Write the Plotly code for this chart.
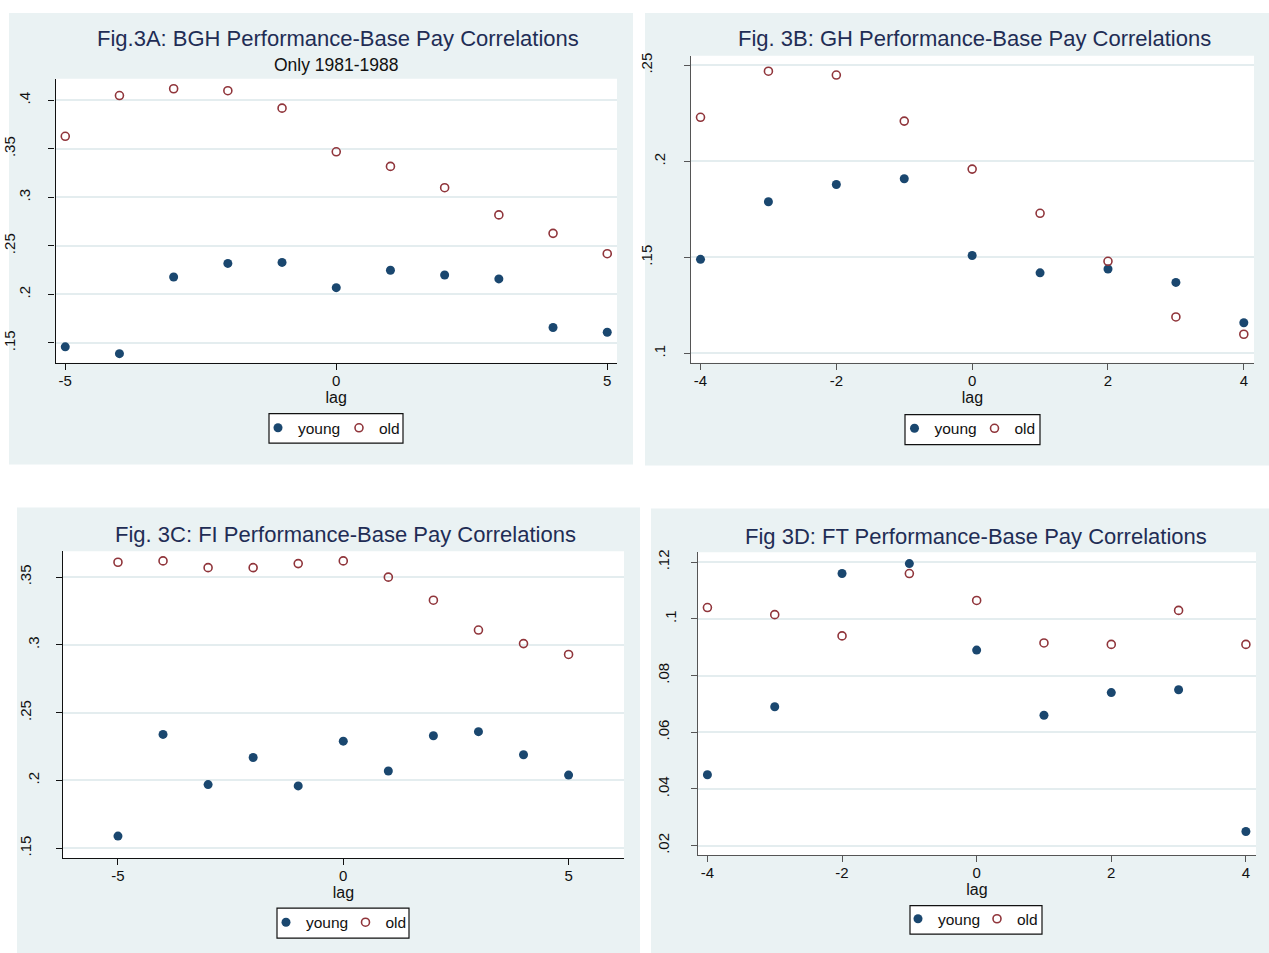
import plotly.graph_objects as go

# ---------------- data ----------------
lag_a = [-5, -4, -3, -2, -1, 0, 1, 2, 3, 4, 5]
young_a = [0.146, 0.139, 0.218, 0.232, 0.233, 0.207, 0.225, 0.220, 0.216, 0.166, 0.161]
old_a = [0.363, 0.405, 0.412, 0.410, 0.392, 0.347, 0.332, 0.310, 0.282, 0.263, 0.242]

lag_b = [-4, -3, -2, -1, 0, 1, 2, 3, 4]
young_b = [0.149, 0.179, 0.188, 0.191, 0.151, 0.142, 0.144, 0.137, 0.116]
old_b = [0.223, 0.247, 0.245, 0.221, 0.196, 0.173, 0.148, 0.119, 0.110]

lag_c = [-5, -4, -3, -2, -1, 0, 1, 2, 3, 4, 5]
young_c = [0.159, 0.234, 0.197, 0.217, 0.196, 0.229, 0.207, 0.233, 0.236, 0.219, 0.204]
old_c = [0.361, 0.362, 0.357, 0.357, 0.360, 0.362, 0.350, 0.333, 0.311, 0.301, 0.293]

lag_d = [-4, -3, -2, -1, 0, 1, 2, 3, 4]
young_d = [0.045, 0.069, 0.116, 0.1195, 0.089, 0.066, 0.074, 0.075, 0.025]
old_d = [0.104, 0.1015, 0.094, 0.116, 0.1065, 0.0915, 0.091, 0.103, 0.091]

titles = [
    "Fig.3A: BGH Performance-Base Pay Correlations",
    "Fig. 3B: GH Performance-Base Pay Correlations",
    "Fig. 3C: FI Performance-Base Pay Correlations",
    "Fig 3D: FT Performance-Base Pay Correlations",
]
subtitle_a = "Only 1981-1988"

xtick_a = [-5, 0, 5]
xtick_b = [-4, -2, 0, 2, 4]
xtick_c = [-5, 0, 5]
xtick_d = [-4, -2, 0, 2, 4]

ytick_a = [0.15, 0.2, 0.25, 0.3, 0.35, 0.4]
ylab_a = [".15", ".2", ".25", ".3", ".35", ".4"]
ytick_b = [0.1, 0.15, 0.2, 0.25]
ylab_b = [".1", ".15", ".2", ".25"]
ytick_c = [0.15, 0.2, 0.25, 0.3, 0.35]
ylab_c = [".15", ".2", ".25", ".3", ".35"]
ytick_d = [0.02, 0.04, 0.06, 0.08, 0.1, 0.12]
ylab_d = [".02", ".04", ".06", ".08", ".1", ".12"]

# ---------------- styling ----------------
W, H = 1269, 953
FONT = "Liberation Sans, Arial, Helvetica, sans-serif"
BG = "#EAF2F3"
NAVY = "#1A476F"
MAROON = "#90353B"
TITLE_C = "#1F2D55"
GRID = "#E4EDEF"
TICK_FS = 15
Y_FS = 15


def px(x):
    return x / W


def py(y):
    return 1 - y / H


panels = [
    dict(lag=lag_a, young=young_a, old=old_a, xt=xtick_a, yt=ytick_a, yl=ylab_a,
         xr=[-5.18, 5.18], yr=[0.1295, 0.4223],
         plot=(55.5, 617, 76, 361), bg=(9, 633, 10, 463),
         title_xy=(337.5, 35.5), frame=(269, 403, 412, 441.5), mk=(279, 362, 427.5),
         line="#111111", so_main=12, so_over=37),
    dict(lag=lag_b, young=young_b, old=old_b, xt=xtick_b, yt=ytick_b, yl=ylab_b,
         xr=[-4.14, 4.15], yr=[0.0951, 0.255],
         plot=(691, 1254, 53, 361), bg=(645, 1269, 10, 464),
         title_xy=(974, 35.5), frame=(905, 1040, 413, 443), mk=(915.5, 997.5, 428),
         line="#555555", so_main=13, so_over=35),
    dict(lag=lag_c, young=young_c, old=old_c, xt=xtick_c, yt=ytick_c, yl=ylab_c,
         xr=[-6.22, 6.23], yr=[0.1426, 0.3691],
         plot=(63, 624, 550, 858), bg=(17, 640, 506, 953),
         title_xy=(345, 533), frame=(277, 409, 908, 938), mk=(287, 368.5, 923.5),
         line="#111111", so_main=11, so_over=28),
    dict(lag=lag_d, young=young_d, old=old_d, xt=xtick_d, yt=ytick_d, yl=ylab_d,
         xr=[-4.14, 4.15], yr=[0.0166, 0.1235],
         plot=(698, 1256, 551, 855), bg=(651, 1269, 507, 953),
         title_xy=(976, 535), frame=(910, 1042, 905.5, 934), mk=(919, 1000, 920),
         line="#555555", so_main=9, so_over=25),
]

fig = go.Figure()
layout = dict(
    width=W, height=H, margin=dict(l=0, r=0, t=0, b=0),
    paper_bgcolor="white", plot_bgcolor="white",
    font=dict(family=FONT, color="#111111"),
    shapes=[], annotations=[],
)

SYM_OFF = 20   # plotly legend symbol centre offset from legend left edge
ROW_OFF = 18   # plotly legend row centre offset from legend top edge

for i, p in enumerate(panels):
    n = i + 1
    xa = "xaxis" if n == 1 else f"xaxis{n}"
    ya = "yaxis" if n == 1 else f"yaxis{n}"
    xref = "x" if n == 1 else f"x{n}"
    yref = "y" if n == 1 else f"y{n}"
    ov = f"yaxis{n + 4}"
    ovref = f"y{n + 4}"
    leg_y = "legend" if n == 1 else f"legend{2 * n - 1}"
    leg_o = f"legend{2 * n}"
    x0, x1, y0, y1 = p["plot"]

    # panel background and white plot region
    bx0, bx1, by0, by1 = p["bg"]
    layout["shapes"].append(dict(type="rect", xref="paper", yref="paper",
                                 x0=px(bx0), x1=px(bx1), y0=py(by1), y1=py(by0),
                                 fillcolor=BG, line=dict(width=0), layer="below"))
    layout["shapes"].append(dict(type="rect", xref="paper", yref="paper",
                                 x0=px(x0), x1=px(x1), y0=py(y1), y1=py(y0),
                                 fillcolor="white", line=dict(width=0), layer="below"))
    # legend frame
    fx0, fx1, fy0, fy1 = p["frame"]
    layout["shapes"].append(dict(type="rect", xref="paper", yref="paper",
                                 x0=px(fx0), x1=px(fx1), y0=py(fy1), y1=py(fy0),
                                 fillcolor="white", line=dict(width=1.2, color="#111111"),
                                 layer="below"))

    fig.add_trace(go.Scatter(x=p["lag"], y=p["young"], mode="markers", name="young",
                             marker=dict(symbol="circle", size=9, color=NAVY),
                             xaxis=xref, yaxis=yref, legend=leg_y, showlegend=True))
    fig.add_trace(go.Scatter(x=p["lag"], y=p["old"], mode="markers", name="old",
                             marker=dict(symbol="circle-open", size=8, color=MAROON,
                                         line=dict(width=1.6, color=MAROON)),
                             xaxis=xref, yaxis=yref, legend=leg_o, showlegend=True))
    # invisible carrier so the overlaid label axis is drawn
    fig.add_trace(go.Scatter(x=p["lag"], y=p["young"], mode="markers",
                             marker=dict(size=1, opacity=0), hoverinfo="skip",
                             xaxis=xref, yaxis=ovref, showlegend=False))

    layout[xa] = dict(domain=[px(x0), px(x1)], anchor=yref, range=p["xr"],
                      tickvals=p["xt"], ticktext=[str(v) for v in p["xt"]],
                      ticks="outside", ticklen=6, tickcolor=p["line"], tickwidth=1,
                      showline=True, linecolor=p["line"], linewidth=1.2,
                      showgrid=False, zeroline=False, ticklabelstandoff=-2,
                      tickfont=dict(size=TICK_FS, color="#111111"),
                      title=dict(text="lag", font=dict(size=16, color="#111111"), standoff=0))
    main_text = [t if len(t) == 2 else "" for t in p["yl"]]
    over_vals = [v for v, t in zip(p["yt"], p["yl"]) if len(t) == 3]
    over_text = [t for t in p["yl"] if len(t) == 3]
    layout[ya] = dict(domain=[py(y1), py(y0)], anchor=xref, range=p["yr"],
                      tickvals=p["yt"], ticktext=main_text, tickangle=-90,
                      ticks="outside", ticklen=6, tickcolor=p["line"], tickwidth=1,
                      showline=True, linecolor=p["line"], linewidth=1.2,
                      showgrid=True, gridcolor=GRID, gridwidth=2, zeroline=False,
                      ticklabelstandoff=p["so_main"],
                      tickfont=dict(size=Y_FS, color="#111111"))
    layout[ov] = dict(overlaying=yref, anchor=xref, side="left", range=p["yr"],
                      tickvals=over_vals, ticktext=over_text, tickangle=-90,
                      ticks="", showline=False, showgrid=False, zeroline=False,
                      ticklabelstandoff=p["so_over"],
                      tickfont=dict(size=Y_FS, color="#111111"))

    tx, ty = p["title_xy"]
    layout["annotations"].append(dict(text=titles[i], xref="paper", yref="paper",
                                      x=px(tx), y=py(ty), xanchor="center", yanchor="middle",
                                      showarrow=False, font=dict(size=22, color=TITLE_C)))
    if n == 1:
        layout["annotations"].append(dict(text=subtitle_a, xref="paper", yref="paper",
                                          x=px(336), y=py(62.5), xanchor="center", yanchor="middle",
                                          showarrow=False, font=dict(size=17.5, color="#111111")))

    my_x, mo_x, m_y = p["mk"]
    for leg, mx in ((leg_y, my_x - 1), (leg_o, mo_x - 3)):
        layout[leg] = dict(x=px(mx - SYM_OFF), y=py(m_y - ROW_OFF),
                           xanchor="left", yanchor="top",
                           orientation="h", bgcolor="rgba(0,0,0,0)", borderwidth=0,
                           font=dict(size=15.5, color="#111111"),
                           itemwidth=30, tracegroupgap=0)

fig.update_layout(**layout)
fig.write_html("out.html", config={"displayModeBar": False},
               post_script="document.body.style.margin='0';document.body.style.overflow='hidden';")
